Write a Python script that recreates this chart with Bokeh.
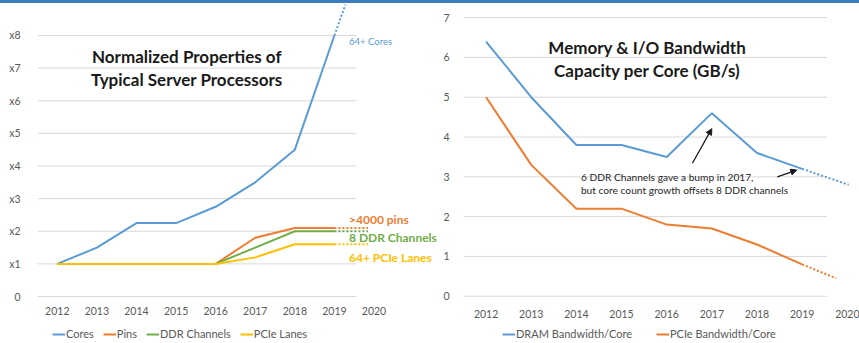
from bokeh.plotting import figure
from bokeh.models import Range1d, FixedTicker, Legend, LegendItem, Arrow, NormalHead, Div
from bokeh.layouts import column, row
from bokeh.core.properties import value
from bokeh.embed import file_html
from bokeh.resources import INLINE

# ---------------- data ----------------
years = [2012, 2013, 2014, 2015, 2016, 2017, 2018, 2019]
axis_years = [2012, 2013, 2014, 2015, 2016, 2017, 2018, 2019, 2020]

cores = [1.0, 1.5, 2.25, 2.25, 2.75, 3.5, 4.5, 8.0]
pins = [1.0, 1.0, 1.0, 1.0, 1.0, 1.8, 2.1, 2.1]
ddr_channels = [1.0, 1.0, 1.0, 1.0, 1.0, 1.5, 2.0, 2.0]
pcie_lanes = [1.0, 1.0, 1.0, 1.0, 1.0, 1.2, 1.6, 1.6]

cores_ext_x = [2019, 2019.28]
cores_ext_y = [8.0, 8.95]
flat_ext_x = [2019, 2019.85]
pins_ext_y = [2.1, 2.1]
ddr_ext_y = [2.0, 2.0]
pcie_ext_y = [1.6, 1.6]

left_ticks = [0, 1, 2, 3, 4, 5, 6, 7, 8]
left_tick_labels = ["0", "x1", "x2", "x3", "x4", "x5", "x6", "x7", "x8"]

dram_bw = [6.4, 5.0, 3.8, 3.8, 3.5, 4.6, 3.6, 3.2]
pcie_bw = [5.0, 3.3, 2.2, 2.2, 1.8, 1.7, 1.3, 0.8]
dram_ext_x = [2019, 2020.03]
dram_ext_y = [3.2, 2.8]
pcie_bw_ext_x = [2019, 2019.75]
pcie_bw_ext_y = [0.8, 0.45]

right_ticks = [0, 1, 2, 3, 4, 5, 6, 7]

left_series = ["Cores", "Pins", "DDR Channels", "PCIe Lanes"]
right_series = ["DRAM Bandwidth/Core", "PCIe Bandwidth/Core"]
left_title = ["Normalized Properties of", "Typical Server Processors"]
right_title = ["Memory & I/O Bandwidth", "Capacity per Core (GB/s)"]
note_lines = ["6 DDR Channels gave a bump in 2017,",
              "but core count growth offsets 8 DDR channels"]

BLUE = "#5B9BD5"
ORANGE = "#ED7D31"
GREEN = "#70AD47"
YELLOW = "#FFC000"
GRID = "#D9D9D9"
TICK = "#595959"
FONT = "Lato"


def base(width, height, xr, yr, mbl, mbb):
    p = figure(width=width, height=height, output_backend="svg", toolbar_location=None,
               x_range=Range1d(*xr), y_range=Range1d(*yr),
               min_border_left=mbl, min_border_right=0, min_border_top=0,
               min_border_bottom=mbb)
    p.outline_line_color = None
    p.xgrid.grid_line_color = None
    p.ygrid.grid_line_color = None
    for ax in (p.xaxis, p.yaxis):
        ax.axis_line_color = None
        ax.major_tick_line_color = None
        ax.minor_tick_line_color = None
        ax.major_label_text_font = FONT
        ax.major_label_text_font_size = "10.5px"
        ax.major_label_text_color = TICK
    p.xaxis.ticker = FixedTicker(ticks=axis_years)
    return p


def legend_fig(width, names, colors, x_off, spacing):
    lf = figure(width=width, height=20, output_backend="svg", toolbar_location=None,
                x_range=Range1d(0, 1), y_range=Range1d(0, 1),
                min_border=0, x_axis_type=None, y_axis_type=None)
    lf.outline_line_color = None
    lf.xgrid.grid_line_color = None
    lf.ygrid.grid_line_color = None
    items = []
    for n, c in zip(names, colors):
        # legend key only: a single undefined point draws nothing in the frame
        r = lf.line(x=[float("nan")], y=[float("nan")], line_color=c, line_width=2)
        items.append(LegendItem(label=n, renderers=[r]))
    leg = Legend(items=items, orientation="horizontal", location=(x_off, 3),
                 spacing=spacing, glyph_width=13, glyph_height=12, label_height=12,
                 label_standoff=1, padding=0, margin=0, border_line_color=None,
                 background_fill_alpha=0, label_text_font=FONT,
                 label_text_font_size="11px", label_text_color=TICK)
    lf.add_layout(leg)
    return lf


# ---------------- left chart ----------------
p1 = base(440, 320, (2011.5, 2021.68), (-0.03, 8.98), 37, 26)
p1.yaxis.ticker = FixedTicker(ticks=left_ticks)
p1.yaxis.major_label_overrides = {t: l for t, l in zip(left_ticks, left_tick_labels)}
p1.yaxis.major_label_standoff = 11
p1.xaxis.major_label_standoff = 3

p1.segment(x0=[2011.5] * len(left_ticks), x1=[2019.55] * len(left_ticks),
           y0=left_ticks, y1=left_ticks, line_color=GRID, line_width=1)

p1.line(cores_ext_x, cores_ext_y, line_color=BLUE, line_width=2, line_dash="2 2")
p1.line(flat_ext_x, pins_ext_y, line_color=ORANGE, line_width=2, line_dash="2 2")
p1.line(flat_ext_x, ddr_ext_y, line_color=GREEN, line_width=2, line_dash="2 2")
p1.line(flat_ext_x, pcie_ext_y, line_color=YELLOW, line_width=2, line_dash="2 2")

p1.line(years, cores, line_color=BLUE, line_width=2)
p1.line(years, pins, line_color=ORANGE, line_width=2)
p1.line(years, ddr_channels, line_color=GREEN, line_width=2)
p1.line(years, pcie_lanes, line_color=YELLOW, line_width=2)

p1.text(x=[2015.27, 2015.27], y=[7.35, 6.65], text=left_title, text_font=value(FONT),
        text_font_style="bold", text_font_size="17px", text_color="#1a1a1a",
        text_align="center", text_baseline="middle")

p1.text(x=[2019.37], y=[7.82], text=["64+ Cores"], text_font=value(FONT),
        text_font_size="9.5px", text_color=BLUE, text_baseline="middle")
p1.text(x=[2019.37, 2019.37, 2019.37], y=[2.37, 1.82, 1.2],
        text=[">4000 pins", "8 DDR Channels", "64+ PCIe Lanes"],
        text_color=[ORANGE, GREEN, YELLOW], text_font=value(FONT),
        text_font_style="bold", text_font_size="12px", text_baseline="middle")

# ---------------- right chart ----------------
p2 = base(419, 320, (2011.5, 2020.27), (-0.032, 7.355), 14, 22)
p2.yaxis.ticker = FixedTicker(ticks=right_ticks)
p2.yaxis.major_label_standoff = 8
p2.xaxis.major_label_standoff = 6

p2.segment(x0=[2011.5] * len(right_ticks), x1=[2019.55] * len(right_ticks),
           y0=right_ticks, y1=right_ticks, line_color=GRID, line_width=1)

p2.line(dram_ext_x, dram_ext_y, line_color=BLUE, line_width=2, line_dash="2 2")
p2.line(pcie_bw_ext_x, pcie_bw_ext_y, line_color=ORANGE, line_width=2, line_dash="2 2")
p2.line(years, dram_bw, line_color=BLUE, line_width=2)
p2.line(years, pcie_bw, line_color=ORANGE, line_width=2)

p2.text(x=[2015.57, 2015.57], y=[6.26, 5.67], text=right_title, text_font=value(FONT),
        text_font_style="bold", text_font_size="17px", text_color="#1a1a1a",
        text_align="center", text_baseline="middle")
p2.text(x=[2014.1, 2014.1], y=[3.0, 2.67], text=note_lines, text_font=value(FONT),
        text_font_size="10.2px", text_color="#262626", text_baseline="middle")

p2.add_layout(Arrow(x_start=2016.57, y_start=3.34, x_end=2017.0, y_end=4.21,
                    line_color="#1a1a1a", line_width=1.3,
                    end=NormalHead(size=6, fill_color="#1a1a1a", line_color="#1a1a1a")))
p2.add_layout(Arrow(x_start=2018.45, y_start=3.0, x_end=2018.88, y_end=3.17,
                    line_color="#1a1a1a", line_width=1.3,
                    end=NormalHead(size=6, fill_color="#1a1a1a", line_color="#1a1a1a")))

# ---------------- legends ----------------
lf1 = legend_fig(440, left_series, [BLUE, ORANGE, GREEN, YELLOW], 52, 9)
lf2 = legend_fig(419, right_series, [BLUE, ORANGE], 62, 24)

bar = Div(text="", width=859, height=3, margin=0,
          styles={"background-color": "#3B7CC0"})
layout = column(bar, row(p1, p2, spacing=0), row(lf1, lf2, spacing=0), spacing=0)

open("out.html", "w").write(file_html(layout, INLINE))
